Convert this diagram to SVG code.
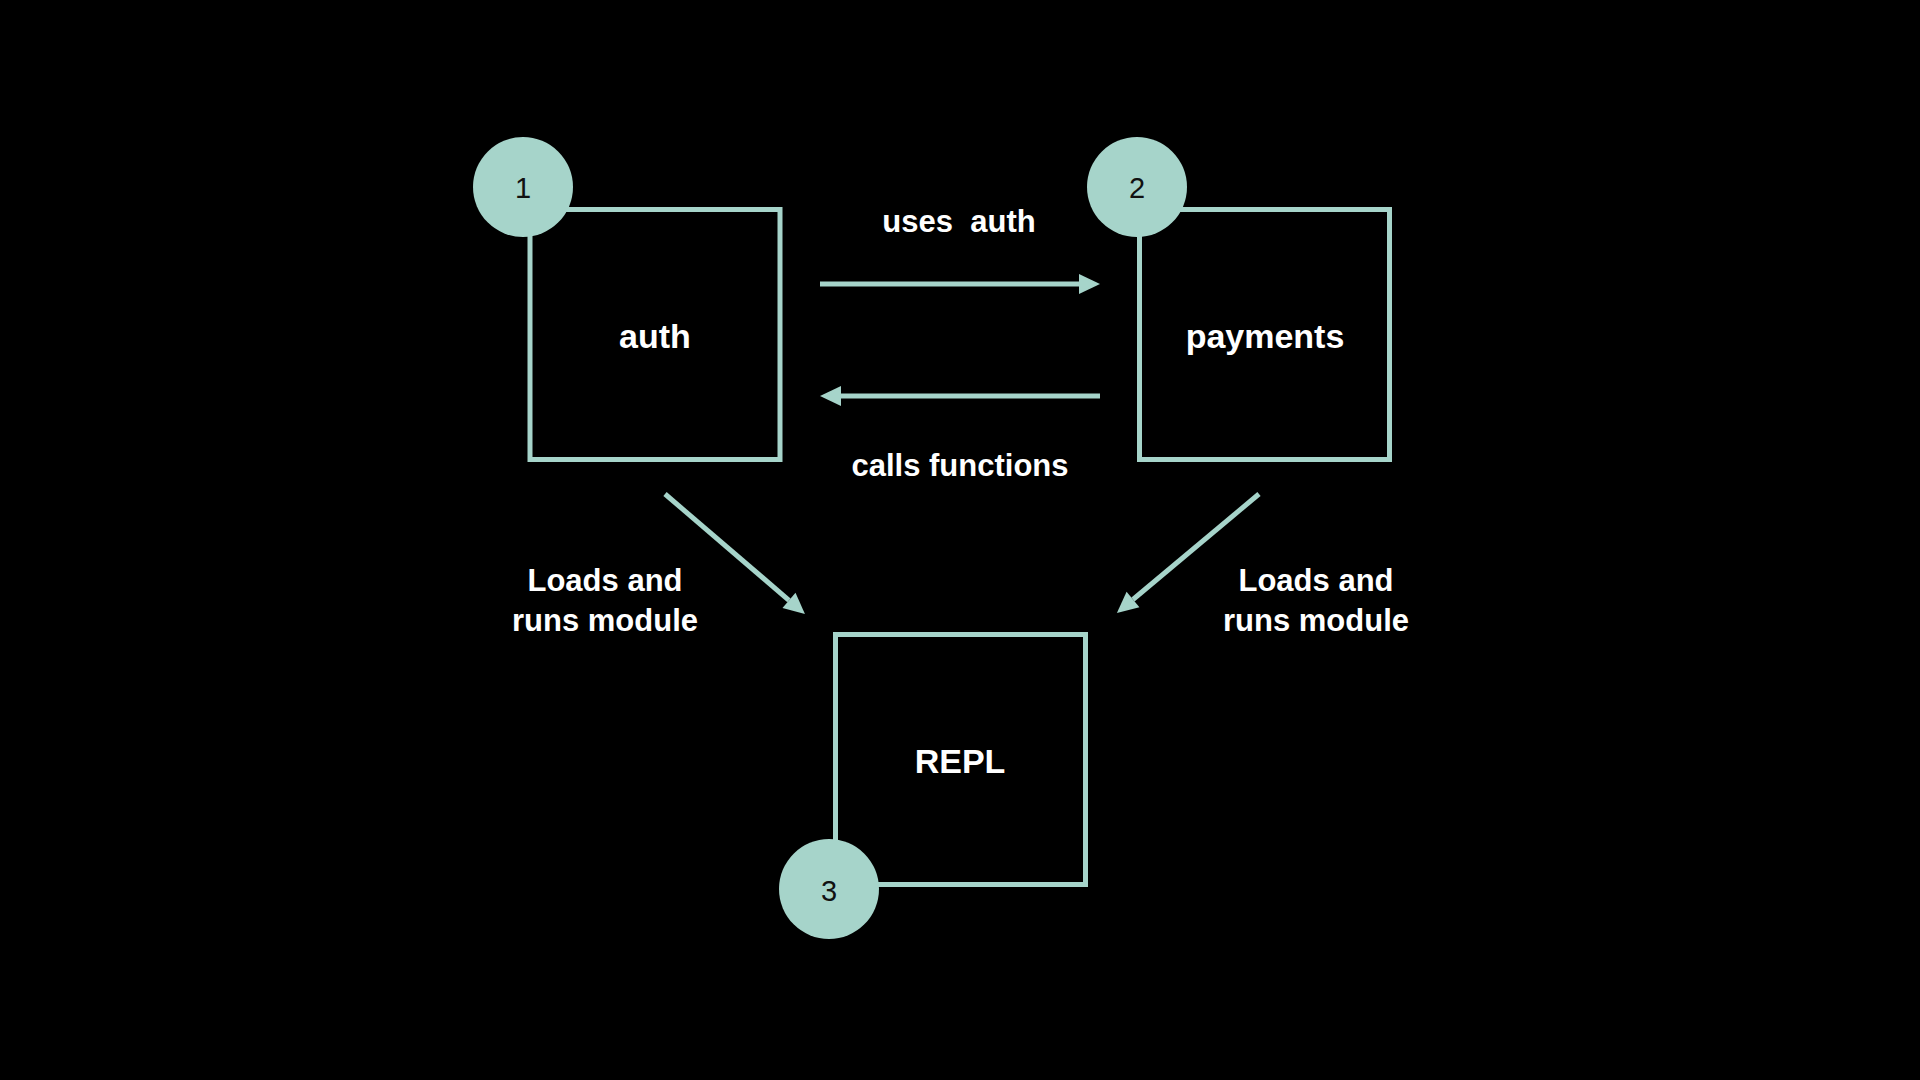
<svg xmlns="http://www.w3.org/2000/svg" width="1920" height="1080" viewBox="0 0 1920 1080">
  <defs>
    <style>
      .box { fill: #000; stroke: #a6d4ca; stroke-width: 5; }
      .badge { fill: #a6d4ca; }
      .num { font-family: "Liberation Sans", Arial, sans-serif; font-size: 29px; fill: #111; text-anchor: middle; }
      .name { font-family: "Liberation Sans", Arial, sans-serif; font-weight: bold; font-size: 34px; fill: #fff; text-anchor: middle; }
      .lbl { font-family: "Liberation Sans", Arial, sans-serif; font-weight: bold; font-size: 31px; fill: #fff; text-anchor: middle; white-space: pre; }
      .conn { stroke: #a6d4ca; stroke-width: 5; fill: none; marker-end: url(#head); }
    </style>
    <marker id="head" markerUnits="userSpaceOnUse" markerWidth="22" markerHeight="22" refX="0" refY="0" orient="auto" overflow="visible">
      <path d="M0,-10 L21,0 L0,10 z" fill="#a6d4ca"/>
    </marker>
  </defs>
  <rect width="1920" height="1080" fill="#000"/>

  <g id="connectors">
    <line class="conn" x1="820" y1="284" x2="1079" y2="284"/>
    <line class="conn" x1="1100" y1="396" x2="841" y2="396"/>
    <line class="conn" x1="665" y1="494" x2="789" y2="600.3"/>
    <line class="conn" x1="1259" y1="494" x2="1133" y2="599.5"/>
    <text class="lbl" x="959" y="232" xml:space="preserve">uses  auth</text>
    <text class="lbl" x="960" y="476">calls functions</text>
    <text class="lbl" x="605" y="591">Loads and</text>
    <text class="lbl" x="605" y="631">runs module</text>
    <text class="lbl" x="1316" y="591">Loads and</text>
    <text class="lbl" x="1316" y="631">runs module</text>
  </g>

  <g id="node-auth">
    <rect class="box" x="530" y="209.5" width="250" height="250"/>
    <text class="name" x="655" y="348">auth</text>
    <circle class="badge" cx="523" cy="187" r="50"/>
    <text class="num" x="523" y="198">1</text>
  </g>

  <g id="node-payments">
    <rect class="box" x="1139.5" y="209.5" width="250" height="250"/>
    <text class="name" x="1265" y="348">payments</text>
    <circle class="badge" cx="1137" cy="187" r="50"/>
    <text class="num" x="1137" y="198">2</text>
  </g>

  <g id="node-repl">
    <rect class="box" x="835.5" y="634.5" width="250" height="250"/>
    <text class="name" x="960" y="773">REPL</text>
    <circle class="badge" cx="829" cy="889" r="50"/>
    <text class="num" x="829" y="901">3</text>
  </g>
</svg>
